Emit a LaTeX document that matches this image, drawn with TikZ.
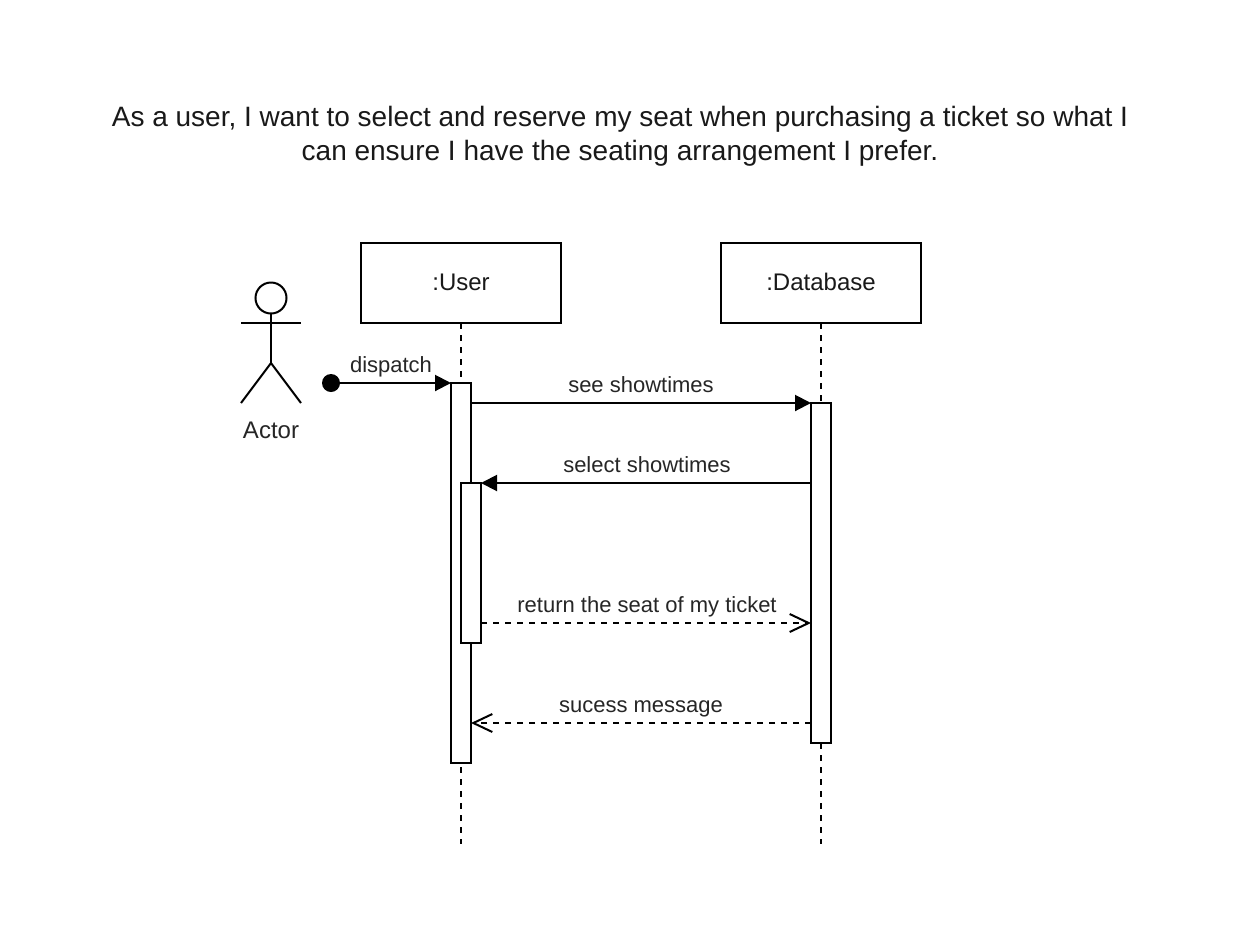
\documentclass[tikz,border=0pt]{standalone}
\usepackage{fontspec}
\setmainfont{Liberation Sans}
\usetikzlibrary{arrows.meta}
\tikzset{
  px/.style={x=1pt,y=-1pt},
  lifebox/.style={draw=black,fill=white,line width=2pt,minimum width=200pt,minimum height=80pt,inner sep=0pt,outer sep=0pt,font=\fontsize{24}{28}\selectfont,text=black!90},
  activation/.style={draw=black,fill=white,line width=2pt,minimum width=20pt,inner sep=0pt,outer sep=0pt},
  lifeline/.style={line width=2pt,dash pattern=on 6pt off 6pt},
  msg/.style={line width=2pt,-{Triangle[length=16pt,width=16pt]}},
  ret/.style={line width=2pt,dash pattern=on 6pt off 6pt,-{Straight Barb[length=19pt,width=18pt,line width=2pt]}},
  lbl/.style={font=\fontsize{22}{26}\selectfont,inner sep=0pt,text=black!85,anchor=base},
  actorline/.style={line width=2pt}
}
\begin{document}
\begin{tikzpicture}[px]
\useasboundingbox (0,0) rectangle (1240,946);
\fill[white] (0,0) rectangle (1240,946);
\node[align=center,inner sep=0pt,font=\fontsize{28}{34}\selectfont,text=black!90] (title) at (620,136.5) {As a user, I want to select and reserve my seat when purchasing a ticket so what I\\can ensure I have the seating arrangement I prefer.};
\node[lifebox] (user) at (461,283) {\raisebox{1.5pt}{:User}};
\node[lifebox] (db) at (821,283) {\raisebox{1.5pt}{:Database}};
\coordinate (userend) at (461,844);
\coordinate (dbend) at (821,844);
\draw[lifeline] (user.south) -- (userend);
\draw[lifeline] (db.south) -- (dbend);
% actor
\node[circle,draw=black,line width=2pt,minimum size=31pt,inner sep=0pt,outer sep=0pt] (head) at (271,298) {};
\coordinate (hip) at (271,363);
\coordinate (armL) at (241,323);
\coordinate (armR) at (301,323);
\coordinate (legL) at (241,403);
\coordinate (legR) at (301,403);
\draw[actorline] (head.south) -- (hip);
\draw[actorline] (armL) -- (armR);
\draw[actorline] (legL) -- (hip) -- (legR);
\node[font=\fontsize{24}{28}\selectfont,inner sep=0pt,text=black!85] (actor) at (271,430) {Actor};
% activations
\node[activation,minimum height=380pt] (a1) at (461,573) {};
\node[activation,minimum height=160pt] (a2) at (471,563) {};
\node[activation,minimum height=340pt] (b1) at (821,573) {};
% messages
\node[circle,fill=black,minimum size=18pt,inner sep=0pt,outer sep=0pt] (start) at (331,383) {};
\draw[msg] (start.center) -- (a1.north west);
\node[lbl] (l0) at (391,372) {dispatch};
\coordinate (s1) at (471,403);
\coordinate (e1) at (811,403);
\draw[msg] (s1) -- (e1);
\node[lbl] (l1) at (641,392) {see showtimes};
\coordinate (s2) at (811,483);
\draw[msg] (s2) -- (a2.north east);
\node[lbl] (l2) at (647,472) {select showtimes};
\coordinate (s3) at (481,623);
\coordinate (e3) at (811,623);
\draw[ret] (s3) -- (e3);
\node[lbl] (l3) at (647,612) {return the seat of my ticket};
\coordinate (s4) at (811,723);
\coordinate (e4) at (471,723);
\draw[ret] (s4) -- (e4);
\node[lbl] (l4) at (641,712) {sucess message};
\end{tikzpicture}
\end{document}
